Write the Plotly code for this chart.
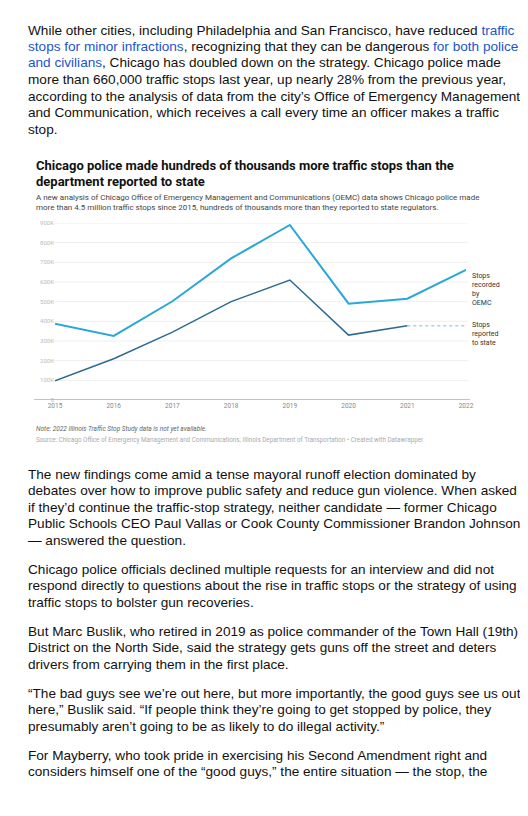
import plotly.graph_objects as go

years = [2015, 2016, 2017, 2018, 2019, 2020, 2021, 2022]
oemc = [388000, 326000, 502000, 720000, 890000, 490000, 515000, 662000]
state_years = [2015, 2016, 2017, 2018, 2019, 2020, 2021]
state = [98000, 210000, 345000, 500000, 610000, 330000, 377000]
y_ticks = [0, 100000, 200000, 300000, 400000, 500000, 600000, 700000, 800000, 900000]
y_labels = ["0", "100K", "200K", "300K", "400K", "500K", "600K", "700K", "800K", "900K"]

H = 816
BLUE = "#1a55cc"

def lk(t):
    return '<a href="#" style="color:%s">%s</a>' % (BLUE, t)

para1 = [
    "While other cities, including Philadelphia and San Francisco, have reduced " + lk("traffic"),
    lk("stops for minor infractions") + ", recognizing that they can be dangerous " + lk("for both police"),
    lk("and civilians") + ", Chicago has doubled down on the strategy. Chicago police made",
    "more than 660,000 traffic stops last year, up nearly 28% from the previous year,",
    "according to the analysis of data from the city\u2019s Office of Emergency Management",
    "and Communication, which receives a call every time an officer makes a traffic",
    "stop.",
]
para2 = [
    "The new findings come amid a tense mayoral runoff election dominated by",
    "debates over how to improve public safety and reduce gun violence. When asked",
    "if they\u2019d continue the traffic-stop strategy, neither candidate \u2014 former Chicago",
    "Public Schools CEO Paul Vallas or Cook County Commissioner Brandon Johnson",
    "\u2014 answered the question.",
]
para3 = [
    "Chicago police officials declined multiple requests for an interview and did not",
    "respond directly to questions about the rise in traffic stops or the strategy of using",
    "traffic stops to bolster gun recoveries.",
]
para4 = [
    "But Marc Buslik, who retired in 2019 as police commander of the Town Hall (19th)",
    "District on the North Side, said the strategy gets guns off the street and deters",
    "drivers from carrying them in the first place.",
]
para5 = [
    "\u201cThe bad guys see we\u2019re out here, but more importantly, the good guys see us out",
    "here,\u201d Buslik said. \u201cIf people think they\u2019re going to get stopped by police, they",
    "presumably aren\u2019t going to be as likely to do illegal activity.\u201d",
]
para6 = [
    "For Mayberry, who took pride in exercising his Second Amendment right and",
    "considers himself one of the \u201cgood guys,\u201d the entire situation \u2014 the stop, the",
]

fig = go.Figure()
fig.add_trace(go.Scatter(x=years, y=oemc, mode="lines",
                         line=dict(color="#2aa7d9", width=2), hoverinfo="skip"))
fig.add_trace(go.Scatter(x=state_years, y=state, mode="lines",
                         line=dict(color="#2e6a91", width=1.5), hoverinfo="skip"))
fig.add_trace(go.Scatter(x=[state_years[-1], years[-1]], y=[state[-1], state[-1]], mode="lines",
                         line=dict(color="#5aa5cc", width=0.8, dash="dot"), hoverinfo="skip"))

ann = []

def body(lines, y0, step=16.5):
    for i, t in enumerate(lines):
        ann.append(dict(x=18 / 528, y=1 - (y0 + i * step) / H, xref="paper", yref="paper",
                        text=t, showarrow=False, xanchor="left", yanchor="middle",
                        font=dict(family="Liberation Sans", size=13.6, color="#111")))

body(para1, 22)
body(para2, 466)
body(para3, 561)
body(para4, 623)
body(para5, 685)
body(para6, 747)

def small(t, x, y, size, color, bold=False, italic=False):
    if bold:
        t = "<b>%s</b>" % t
    if italic:
        t = "<i>%s</i>" % t
    ann.append(dict(x=x / 528, y=1 - y / H, xref="paper", yref="paper", text=t,
                    showarrow=False, xanchor="left", yanchor="middle", align="left",
                    font=dict(family="Roboto", size=size, color=color)))

small("Chicago police made hundreds of thousands more traffic stops than the", 26, 157, 13, "#111", bold=True)
small("department reported to state", 26, 173, 13, "#111", bold=True)
small("A new analysis of Chicago Office of Emergency Management and Communications (OEMC) data shows Chicago police made",
      26, 189, 8, "#444")
small("more than 4.5 million traffic stops since 2015, hundreds of thousands more than they reported to state regulators.",
      26, 199, 8, "#444")
small("Note: 2022 Illinois Traffic Stop Study data is not yet available.", 26, 421, 6.5, "#666", italic=True)
small("Source: Chicago Office of Emergency Management and Communications; Illinois Department of Transportation \u2022 Created with Datawrapper",
      26, 432, 6.3, "#aaa")
small("Stops<br>recorded<br>by<br>OEMC", 462, 281, 7, "#333")
small("Stops<br>reported<br>to state", 462, 326, 7, "#333")

fig.update_layout(
    width=528, height=816, margin=dict(l=0, r=0, t=0, b=0),
    paper_bgcolor="white", plot_bgcolor="white", showlegend=False,
    annotations=ann,
    xaxis=dict(domain=[47 / 528, 458 / 528], range=[2015, 2022], tickvals=years,
               showgrid=False, zeroline=False, showline=False, ticks="", automargin=False,
               tickfont=dict(family="Roboto", size=6.5, color="#888")),
    yaxis=dict(domain=[1 - 392 / H, 1 - 215 / H], range=[0, 900000], tickvals=y_ticks,
               ticktext=y_labels, showgrid=False, zeroline=False, automargin=False,
               tickfont=dict(family="Roboto", size=6, color="#bbb")),
)
for v in y_ticks[1:]:
    fig.add_shape(type="line", xref="paper", yref="y", x0=44 / 528, x1=460 / 528, y0=v, y1=v,
                  line=dict(color="#eeeeee", width=1), layer="below")
fig.add_shape(type="line", xref="paper", yref="y", x0=26 / 528, x1=462 / 528, y0=0, y1=0,
              line=dict(color="#888", width=1.2))
fig.write_html("out.html")
